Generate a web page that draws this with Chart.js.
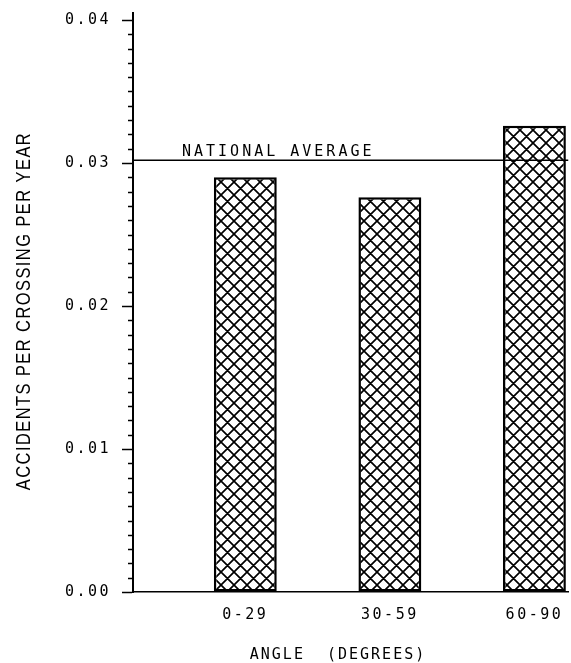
<!DOCTYPE html>
<html>
<head>
<meta charset="utf-8">
<script src="https://cdn.jsdelivr.net/npm/chart.js@4.4.0/dist/chart.umd.min.js"></script>
<style>
  html, body { margin: 0; padding: 0; background: #fff; }
  #wrap { width: 571px; height: 663px; }
</style>
</head>
<body>
<div id="wrap"><canvas id="chart"></canvas></div>
<script>
// values
const categories = ['0-29', '30-59', '60-90'];
const accidentRates = [0.0290, 0.0276, 0.0326];
const nationalAverage = 0.0302;
const nationalAverageLabel = 'NATIONAL AVERAGE';
const xTitle = 'ANGLE  (DEGREES)';
const yTitle = 'ACCIDENTS PER CROSSING PER YEAR';

const MONO = '"DejaVu Sans Mono", monospace';

function isMajor(v) {
  return Math.abs(v * 100 - Math.round(v * 100)) < 1e-6;
}

// cross hatch fill like the plotter pattern
function makeHatch(ctx) {
  const size = 13;
  const c = document.createElement('canvas');
  c.width = size;
  c.height = size;
  const g = c.getContext('2d');
  g.fillStyle = '#fff';
  g.fillRect(0, 0, size, size);
  g.strokeStyle = '#000';
  g.lineWidth = 1.7;
  g.beginPath();
  for (const k of [-size, 0, size]) {
    g.moveTo(k, 0); g.lineTo(k + size, size);
    g.moveTo(k, size); g.lineTo(k + size, 0);
  }
  g.stroke();
  return ctx.createPattern(c, 'repeat');
}

const annotate = {
  id: 'annotate',
  beforeDraw(chart) {
    // spaced-out plotter lettering for tick labels
    chart.ctx.letterSpacing = '2.5px';
  },
  afterDraw(chart) {
    const { ctx, chartArea, scales: { y } } = chart;
    ctx.save();
    ctx.strokeStyle = '#000';
    ctx.fillStyle = '#000';

    // y axis runs a little past the top tick
    ctx.lineWidth = 2;
    ctx.beginPath();
    ctx.moveTo(chartArea.left, chartArea.top - 8);
    ctx.lineTo(chartArea.left, chartArea.top);
    ctx.stroke();

    // minor ticks on the y axis
    ctx.lineWidth = 1.5;
    y.ticks.forEach(t => {
      if (isMajor(t.value)) return;
      const py = Math.round(y.getPixelForValue(t.value)) + 0.5;
      ctx.beginPath();
      ctx.moveTo(chartArea.left - 5, py);
      ctx.lineTo(chartArea.left + 1, py);
      ctx.stroke();
    });

    // national average line + label
    const ny = y.getPixelForValue(nationalAverage);
    ctx.lineWidth = 1.5;
    ctx.beginPath();
    ctx.moveTo(chartArea.left, ny);
    ctx.lineTo(chartArea.right, ny);
    ctx.stroke();
    ctx.letterSpacing = '3px';
    ctx.font = '15px ' + MONO;
    ctx.textAlign = 'left';
    ctx.textBaseline = 'alphabetic';
    ctx.fillText(nationalAverageLabel, chartArea.left + 49, ny - 4);

    // x axis title
    ctx.letterSpacing = '2px';
    ctx.textAlign = 'center';
    ctx.textBaseline = 'middle';
    ctx.fillText(xTitle, chartArea.left + 205, chart.height - 8);

    // y axis title (condensed sans)
    ctx.letterSpacing = '1.8px';
    ctx.font = '20px "Liberation Sans", Arial, sans-serif';
    ctx.translate(24, (chartArea.top + chartArea.bottom) / 2 + 5);
    ctx.rotate(-Math.PI / 2);
    ctx.scale(0.82, 1);
    ctx.fillText(yTitle, 0, 0);
    ctx.restore();
  }
};

const canvas = document.getElementById('chart');
const hatch = makeHatch(canvas.getContext('2d'));

new Chart(canvas, {
  type: 'bar',
  data: {
    datasets: [{
      data: categories.map((c, i) => ({ x: i + 1, y: accidentRates[i] })),
      backgroundColor: hatch,
      borderColor: '#000',
      borderWidth: 2.5,
      borderSkipped: false,
      barPercentage: 0.435,
      categoryPercentage: 1
    }]
  },
  options: {
    responsive: true,
    maintainAspectRatio: false,
    animation: false,
    layout: { padding: { top: 20, right: 0, bottom: 0, left: 0 } },
    plugins: {
      legend: { display: false },
      tooltip: { enabled: false }
    },
    scales: {
      x: {
        type: 'linear',
        offset: false,
        min: 0.223,
        max: 3.234,
        afterBuildTicks: s => { s.ticks = categories.map((c, i) => ({ value: i + 1 })); },
        afterFit: s => { s.height = 71; },
        grid: { display: false, drawTicks: false, offset: false },
        border: { display: true, color: '#000', width: 1.5 },
        ticks: {
          callback: v => categories[Math.round(v) - 1],
          font: { family: MONO, size: 15 },
          color: '#000',
          padding: 14,
          maxRotation: 0,
          autoSkip: false
        }
      },
      y: {
        min: 0,
        max: 0.04,
        afterFit: s => { s.width = 133; },
        grid: {
          drawOnChartArea: false,
          drawTicks: true,
          tickLength: 11,
          tickWidth: 1.5,
          tickColor: c => (c.tick && isMajor(c.tick.value)) ? '#000' : 'transparent'
        },
        border: { display: true, color: '#000', width: 2 },
        ticks: {
          stepSize: 0.001,
          autoSkip: false,
          callback: v => isMajor(v) ? v.toFixed(2) : '',
          font: { family: MONO, size: 15 },
          color: '#000',
          padding: 11
        }
      }
    }
  },
  plugins: [annotate]
});
</script>
</body>
</html>
